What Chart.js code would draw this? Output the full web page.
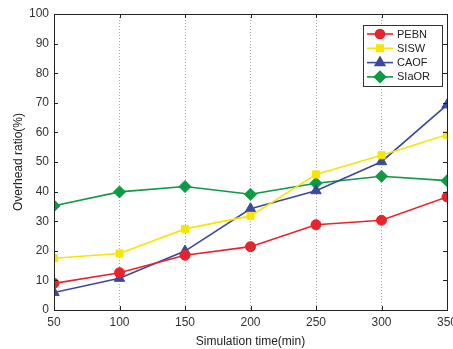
<!DOCTYPE html>
<html>
<head>
<meta charset="utf-8">
<script src="https://cdn.jsdelivr.net/npm/chart.js@4/dist/chart.umd.min.js"></script>
<style>
  html, body { margin: 0; padding: 0; background: #fff; }
  #wrap { width: 453px; height: 349px; }
</style>
</head>
<body>
<div id="wrap"><canvas id="myChart"></canvas></div>
<script>
// data
const times = [50, 100, 150, 200, 250, 300, 350];
const pebn = [9.0, 12.6, 18.5, 21.4, 28.8, 30.3, 38.2];
const sisw = [17.5, 19.1, 27.4, 31.8, 45.8, 52.3, 59.2];
const caof = [5.9, 10.7, 19.9, 34.2, 40.3, 50.1, 69.3];
const slaor = [35.2, 39.9, 41.7, 39.1, 42.8, 45.2, 43.7];
const yTicks = [0, 10, 20, 30, 40, 50, 60, 70, 80, 90, 100];

const FONT = 'Liberation Sans, Arial, sans-serif';

// ghép x và y thành điểm
const toPoints = (vals) => times.map((t, i) => ({ x: t, y: vals[i] }));

const makeSet = (label, vals, color, style, r) => ({
    label: label,
    data: toPoints(vals),
    borderColor: color,
    backgroundColor: color,
    borderWidth: 1.6,
    pointStyle: style,
    pointRadius: r,
    pointBorderWidth: 1,
    tension: 0
});

// khung, vạch chia hướng vào trong và chú thích
const framePlugin = {
    id: 'frame',
    afterDatasetsDraw(chart) {
        const { ctx, chartArea: a, scales } = chart;
        ctx.save();
        ctx.strokeStyle = '#222';
        ctx.lineWidth = 1;
        ctx.strokeRect(a.left + 0.5, a.top + 0.5, a.right - a.left, a.bottom - a.top);
        ctx.beginPath();
        times.forEach(t => {
            const px = Math.round(scales.x.getPixelForValue(t)) + 0.5;
            ctx.moveTo(px, a.bottom); ctx.lineTo(px, a.bottom - 4);
            ctx.moveTo(px, a.top); ctx.lineTo(px, a.top + 4);
        });
        yTicks.forEach(v => {
            const py = Math.round(scales.y.getPixelForValue(v)) + 0.5;
            ctx.moveTo(a.left, py); ctx.lineTo(a.left + 4, py);
            ctx.moveTo(a.right, py); ctx.lineTo(a.right - 4, py);
        });
        ctx.stroke();

        // legend box
        const bx = 363, by = 25, bw = 79, bh = 61;
        ctx.fillStyle = '#fff';
        ctx.fillRect(bx, by, bw, bh);
        ctx.strokeStyle = '#333';
        ctx.strokeRect(bx + 0.5, by + 0.5, bw, bh);
        ctx.font = '11px ' + FONT;
        ctx.textBaseline = 'middle';
        chart.data.datasets.forEach((ds, i) => {
            const y = by + 9 + i * 14.3;
            ctx.strokeStyle = ds.borderColor;
            ctx.lineWidth = 1.6;
            ctx.beginPath();
            ctx.moveTo(367, y); ctx.lineTo(393, y);
            ctx.stroke();
            ctx.fillStyle = ds.backgroundColor;
            Chart.helpers.drawPoint(ctx, { pointStyle: ds.pointStyle, radius: ds.pointRadius - 0.5, borderWidth: 1 }, 380, y);
            ctx.fill();
            ctx.fillStyle = '#222';
            ctx.fillText(ds.label, 397, y + 0.5);
        });
        ctx.restore();
    }
};

const config = {
    type: 'line',
    data: {
        datasets: [
            makeSet('PEBN', pebn, '#e8232b', 'circle', 5),
            makeSet('SISW', sisw, '#f7e600', 'rect', 5),
            makeSet('CAOF', caof, '#3a4a9e', 'triangle', 6),
            makeSet('SIaOR', slaor, '#0c9a44', 'rectRot', 6)
        ]
    },
    options: {
        responsive: true,
        maintainAspectRatio: false,
        animation: false,
        layout: { autoPadding: false, padding: { left: 0, right: 6, top: 14, bottom: 0 } },
        plugins: {
            legend: { display: false },
            tooltip: { enabled: false }
        },
        scales: {
            x: {
                type: 'linear',
                min: 50,
                max: 350,
                afterBuildTicks: (s) => { s.ticks = times.map(v => ({ value: v })); },
                afterFit: (s) => { s.height = 39; s.paddingLeft = 0; s.paddingRight = 0; },
                border: { display: false, dash: [1, 2] },
                grid: {
                    drawTicks: false,
                    color: '#aaa',
                    lineWidth: 1
                },
                ticks: { color: '#333', font: { family: FONT, size: 12 }, padding: 5, maxRotation: 0 },
                title: {
                    display: true,
                    text: 'Simulation time(min)',
                    color: '#222',
                    font: { family: FONT, size: 12 },
                    padding: { top: 1, bottom: 0 }
                }
            },
            y: {
                min: 0,
                max: 100,
                afterBuildTicks: (s) => { s.ticks = yTicks.map(v => ({ value: v })); },
                afterFit: (s) => { s.width = 54; s.paddingTop = 0; s.paddingBottom = 0; },
                border: { display: false },
                grid: { display: false, drawTicks: false },
                ticks: { color: '#333', font: { family: FONT, size: 12 }, padding: 5 },
                title: {
                    display: true,
                    text: 'Overhead ratio(%)',
                    color: '#222',
                    font: { family: FONT, size: 12 },
                    padding: { top: 11, bottom: 0 }
                }
            }
        }
    },
    plugins: [framePlugin]
};

const myChart = new Chart(document.getElementById('myChart'), config);
</script>
</body>
</html>
